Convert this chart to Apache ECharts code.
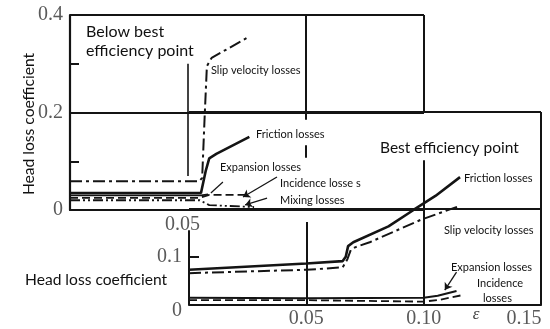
<!DOCTYPE html>
<html><head><meta charset="utf-8">
<script src="https://cdn.jsdelivr.net/npm/echarts@6/dist/echarts.min.js"></script>
<style>html,body{margin:0;padding:0;background:#fff}#c{width:550px;height:329px}</style>
</head><body><div id="c"></div>
<script>
// ---- Tick labels ----
const topYLabels = [0, 0.2, 0.4];
const topYTicks = [0.1, 0.3];
const topXLabels = [0.05];
const botYLabels = [0, 0.1];
const botYTicks = [0.1];
const botXLabels = [0.05, 0.10, 0.15];

// ---- Upper panel: below best efficiency point ----
const topSlip = [[0,0.059],[0.0547,0.059],[0.056,0.066],[0.057,0.185],[0.058,0.295],[0.060,0.312],[0.075,0.353]];
const topFriction = [[0,0.035],[0.0555,0.035],[0.0575,0.08],[0.059,0.106],[0.062,0.115],[0.076,0.150]];
const topExpansion = [[0,0.030],[0.0555,0.030],[0.0585,0.032]];
const topIncidence = [[0,0.025],[0.055,0.025],[0.059,0.031],[0.075,0.031]];
const topMixing = [[0,0.020],[0.055,0.020],[0.059,0.010],[0.078,0.006]];

// ---- Lower panel: best efficiency point ----
const botFriction = [[0,0.073],[0.05,0.086],[0.0655,0.091],[0.0668,0.100],[0.0678,0.122],[0.070,0.130],[0.085,0.163],[0.096,0.198],[0.105,0.226],[0.1155,0.265]];
const botSlip = [[0,0.066],[0.05,0.073],[0.0655,0.078],[0.0675,0.095],[0.069,0.115],[0.071,0.120],[0.077,0.130],[0.091,0.160],[0.099,0.177],[0.1145,0.204]];
const botExpansion = [[0,0.015],[0.05,0.014],[0.1,0.015],[0.106,0.019],[0.114,0.029]];
const botIncidence = [[0,0.010],[0.05,0.010],[0.1,0.007],[0.107,0.011],[0.116,0.020]];

// ---- Guide lines (data coords) ----
const topGuides = [
  [[0,0.4],[0.15,0.4]],
  [[0,0.2],[0.15,0.2]],
  [[0.15,0.2],[0.15,0.4]],
  [[0.1,0.4],[0.1,0.185]],
  [[0.1,0.133],[0.1,0.107]]
];
const topMarker = [[[0.05,0.07],[0.05,0.30]]];
const topArrows = [
  [[0.0877,0.0677],[0.0733,0.0267]],
  [[0.0835,0.0246],[0.0742,0.0103]]
];
const topLeaders = [[[0.0648,0.0574],[0.0597,0.0349]]];
const botGuides = [
  [[0,0.4],[0.15,0.4]],
  [[0,0.2],[0.15,0.2]],
  [[0.15,0],[0.15,0.4]],
  [[0,0],[0,0.155]],
  [[0.05,0],[0.05,0.172]],
  [[0.1,0],[0.1,0.30]]
];
const botArrows = [[[0.114,0.068],[0.109,0.031]]];

const INK = '#141414';
const near = (a,b)=>Math.abs(a-b)<1e-6;
function ml(segs, w, arrow){
  return segs.map(s=>[
    {coord:s[0], symbol:'none', lineStyle:{color:INK,width:w,type:'solid'}},
    {coord:s[1], symbol: arrow?'arrow':'none', symbolSize: arrow?7:0}
  ]);
}
const markBase = {silent:true, animation:false, label:{show:false}, emphasis:{disabled:true}};

const labelFont = {fontFamily:'Liberation Serif', fontSize:20, color:'#5a5a5a'};

function lineSeries(name, data, xi, type, w, extra){
  return Object.assign({
    name, type:'line', data, xAxisIndex:xi, yAxisIndex:xi, showSymbol:false, symbol:'none',
    lineStyle:{color:INK, width:w, type:type}, animation:false, silent:true, z:3
  }, extra||{});
}

const chart = echarts.init(document.getElementById('c'), null, {renderer:'canvas'});
const txt = (t,x,y,size)=>({type:'text', x, y, style:{text:t, fontFamily:'Lato', fontSize:size, fill:'#111', verticalAlign:'middle', align:'left'}});

chart.setOption({
  animation:false,
  grid:[
    {left:70, top:15, width:354, height:195},
    {left:189, top:112, width:352, height:193}
  ],
  xAxis:[
    {type:'value', gridIndex:0, min:0, max:0.15, interval:0.05,
     axisLine:{show:true, onZero:false, lineStyle:{color:INK,width:2.2}}, axisTick:{show:false}, splitLine:{show:false},
     axisLabel:Object.assign({customValues:topXLabels, margin:5,
       formatter:v=>topXLabels.some(t=>near(t,v))?'{l|'+v.toFixed(2)+'}':'',
       rich:{l:Object.assign({padding:[0,11,0,0]}, labelFont)}}, labelFont)},
    {type:'value', gridIndex:1, min:0, max:0.15, interval:0.05,
     axisLine:{show:true, onZero:false, lineStyle:{color:INK,width:2.2}}, axisTick:{show:false}, splitLine:{show:false},
     axisLabel:Object.assign({customValues:botXLabels, margin:4,
       formatter:v=>near(v,0.15)?'{r|0.15}':v.toFixed(2),
       rich:{r:Object.assign({padding:[0,34,0,0]}, labelFont)}}, labelFont)}
  ],
  yAxis:[
    {type:'value', gridIndex:0, min:0, max:0.4, interval:0.2,
     axisLine:{show:true, onZero:false, lineStyle:{color:INK,width:2.2}},
     axisTick:{show:true, inside:true, length:9, customValues:topYTicks, lineStyle:{color:INK,width:2}},
     splitLine:{show:false},
     axisLabel:Object.assign({customValues:topYLabels, margin:7, formatter:v=>near(v,0)?'0':v.toFixed(1)}, labelFont)},
    {type:'value', gridIndex:1, min:0, max:0.4, interval:0.1,
     axisLine:{show:false},
     axisTick:{show:true, inside:true, length:10, customValues:botYTicks, lineStyle:{color:INK,width:2}},
     splitLine:{show:false},
     axisLabel:Object.assign({customValues:botYLabels, margin:7,
       formatter:v=>near(v,0)?'{z|0}':v.toFixed(1),
       rich:{z:Object.assign({padding:[12,0,0,0]}, labelFont)}}, labelFont)}
  ],
  series:[
    lineSeries('Slip velocity losses', topSlip, 0, [12,4,3,4], 2),
    lineSeries('Friction losses', topFriction, 0, 'solid', 2.6, {
      markLine:Object.assign({data: ml(topGuides,2).concat(ml(topMarker,1.6), ml(topLeaders,1.2), ml(topArrows,1.3,true))}, markBase)
    }),
    lineSeries('Expansion losses', topExpansion, 0, 'solid', 1.8),
    lineSeries('Incidence losses', topIncidence, 0, [8,4], 1.8),
    lineSeries('Mixing losses', topMixing, 0, [10,3,2,3,2,3], 1.8),
    lineSeries('Friction losses', botFriction, 1, 'solid', 2.6, {
      markLine:Object.assign({data: ml(botGuides,2).concat(ml(botArrows,1.3,true))}, markBase)
    }),
    lineSeries('Slip velocity losses', botSlip, 1, [12,4,3,4], 2),
    lineSeries('Expansion losses', botExpansion, 1, 'solid', 2),
    lineSeries('Incidence losses', botIncidence, 1, [8,4], 1.8)
  ],
  graphic:[
    txt('Below best', 86, 32, 16),
    txt('efficiency point', 86, 51, 16),
    txt('Slip velocity losses', 211, 70, 11),
    txt('Friction losses', 256, 134, 11),
    txt('Expansion losses', 220, 167, 11),
    txt('Incidence losse s', 280, 183, 11),
    txt('Mixing losses', 280, 200, 11),
    txt('Best efficiency point', 380, 148, 15.5),
    txt('Friction losses', 464, 178, 11),
    txt('Slip velocity losses', 444, 230, 11),
    txt('Expansion losses', 451, 267, 11),
    txt('Incidence', 477, 283, 11),
    txt('losses', 483, 298, 11),
    txt('Head loss coefficient', 25, 280, 15.6),
    {type:'text', x:29, y:124, rotation:Math.PI/2, style:{text:'Head loss coefficient', fontFamily:'Lato', fontSize:15.6, fill:'#111', align:'center', verticalAlign:'middle'}},
    {type:'text', x:476, y:315, style:{text:'ε', fontFamily:'Liberation Serif', fontStyle:'italic', fontSize:17, fill:'#444', align:'center', verticalAlign:'middle'}}
  ]
});
</script>
</body></html>
